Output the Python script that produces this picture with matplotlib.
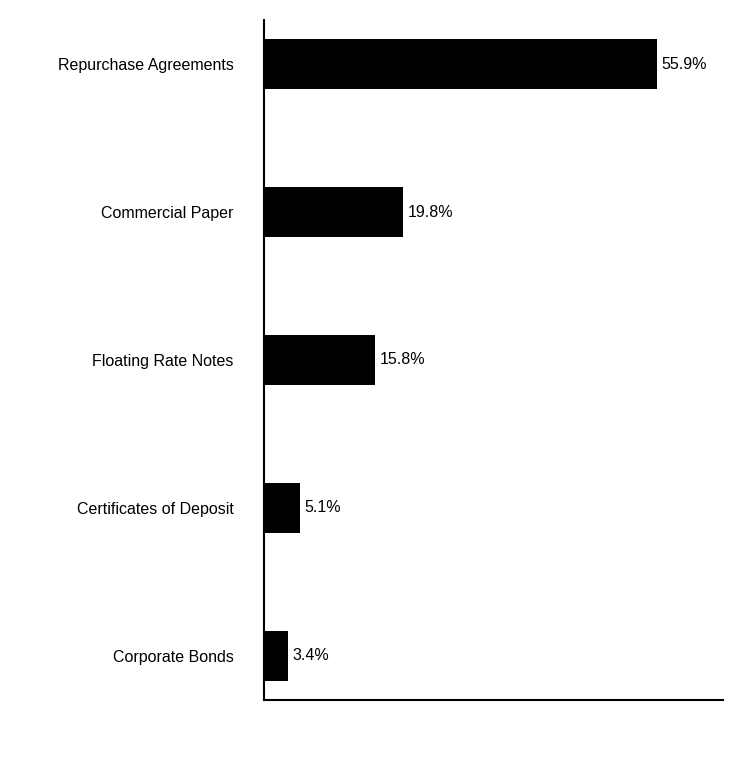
import matplotlib
matplotlib.use("Agg")
import matplotlib.pyplot as plt

categories = ["Repurchase Agreements", "Commercial Paper", "Floating Rate Notes",
              "Certificates of Deposit", "Corporate Bonds"]
values = [55.9, 19.8, 15.8, 5.1, 3.4]
labels = ["55.9%", "19.8%", "15.8%", "5.1%", "3.4%"]

plt.rcParams['font.family'] = ['Liberation Sans', 'DejaVu Sans']
fig = plt.figure(figsize=(7.44, 7.8), dpi=100)
ax = fig.add_axes([264/744, 80/780, 459/744, 680/780])
pos = list(range(len(categories)))[::-1]
ax.barh(pos, values, height=0.34, color="black")
for p, v, l in zip(pos, values, labels):
    ax.text(v + 0.7, p, l, va="center", ha="left", fontsize=11.5)
ax.set_yticks(pos)
ax.set_yticklabels(categories, fontsize=11.5)
ax.tick_params(axis="y", length=0, pad=22)
ax.set_xticks([])
ax.set_xlim(0, 65.3)
ax.set_ylim(-0.3, 4.3)
for s in ["top", "right"]:
    ax.spines[s].set_visible(False)
for s in ["left", "bottom"]:
    ax.spines[s].set_linewidth(1.5)
fig.savefig("out.png", dpi=100)
